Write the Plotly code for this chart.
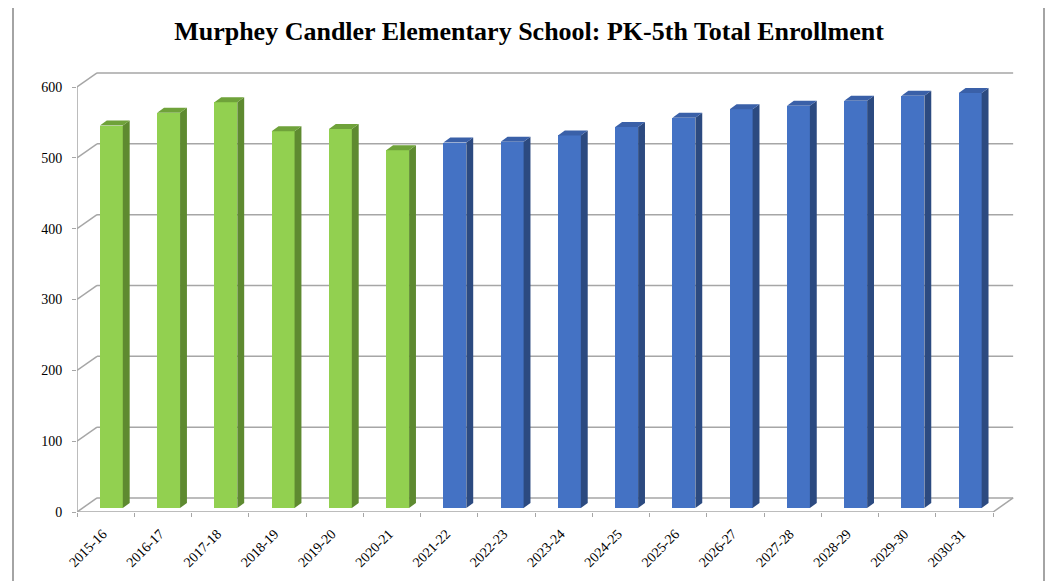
import plotly.graph_objects as go

# ---------------- data ----------------
categories = ["2015-16", "2016-17", "2017-18", "2018-19", "2019-20", "2020-21",
              "2021-22", "2022-23", "2023-24", "2024-25", "2025-26", "2026-27",
              "2027-28", "2028-29", "2029-30", "2030-31"]
enrollment = [540, 558, 573, 532, 535, 505,
              516, 517, 526, 538, 551, 563,
              568, 575, 582, 586]
series_type = ["actual"] * 6 + ["projected"] * 10
y_ticks = [0, 100, 200, 300, 400, 500, 600]

# ---------------- styling ----------------
FRONT = {"actual": "#92D050", "projected": "#4472C4"}
SIDE = {"actual": "#5E8A30", "projected": "#2C4A80"}
TOP = {"actual": "#6FA23A", "projected": "#3A60A8"}
GRID = "#A6A6A6"
FONT = "Liberation Serif"

PAGE_OFF = 8                      # default body margin of the html page
W, H = 1054 - PAGE_OFF, 581 - PAGE_OFF
ML, MR, MT, MB = 77 - PAGE_OFF, 38, 70 - PAGE_OFF, 69
XMAX, YMAX = 16.4, 624.0

# pseudo-3D offsets (in data units)
WALL_DX, WALL_DY = 0.35, 19.8      # depth of the floor / side wall
BASE_DX, BASE_DY = 0.1, 5.6        # bar front face position in depth
BAR_W = 0.4
BAR_DX, BAR_DY = 0.12, 7.0         # bar depth

n = len(categories)
xs = [i + 0.5 + BASE_DX for i in range(n)]
label_pos = [i + 0.45 for i in range(n)]

fig = go.Figure()

# front faces
fig.add_trace(go.Bar(
    x=xs, y=enrollment, base=BASE_DY, width=BAR_W,
    marker=dict(color=[FRONT[t] for t in series_type], line=dict(width=0)),
    hovertext=categories, hoverinfo="text+y", showlegend=False,
))

# side and top faces
for grp in ["actual", "projected"]:
    sx, sy, tx, ty = [], [], [], []
    for i, (v, t) in enumerate(zip(enrollment, series_type)):
        if t != grp:
            continue
        l = xs[i] - BAR_W / 2
        r = xs[i] + BAR_W / 2
        b = BASE_DY
        top = BASE_DY + v
        sx += [r, r + BAR_DX, r + BAR_DX, r, r, None]
        sy += [b, b + BAR_DY, top + BAR_DY, top, b, None]
        tx += [l, r, r + BAR_DX, l + BAR_DX, l, None]
        ty += [top, top, top + BAR_DY, top + BAR_DY, top, None]
    fig.add_trace(go.Scatter(x=sx, y=sy, mode="lines", fill="toself",
                             fillcolor=SIDE[grp], line=dict(width=0, color=SIDE[grp]),
                             hoverinfo="skip", showlegend=False))
    fig.add_trace(go.Scatter(x=tx, y=ty, mode="lines", fill="toself",
                             fillcolor=TOP[grp], line=dict(width=0, color=TOP[grp]),
                             hoverinfo="skip", showlegend=False))

# walls / gridlines
shapes = []
def line(x0, y0, x1, y1, color=GRID, width=1.5):
    shapes.append(dict(type="line", xref="x", yref="y", x0=x0, y0=y0, x1=x1, y1=y1,
                       line=dict(color=color, width=width), layer="below"))

for v in y_ticks:
    line(WALL_DX, v + WALL_DY, n + WALL_DX, v + WALL_DY)   # back wall gridline
    line(0, v, WALL_DX, v + WALL_DY)                       # side wall diagonal
line(n, 0, n + WALL_DX, WALL_DY)                            # floor right edge
line(0, 0, n, 0)                                            # x axis (front floor edge)
line(0, 0, 0, y_ticks[-1])                                  # y axis

# outer chart frame (page pixel positions)
def px_to_paper_x(px):
    return (px - PAGE_OFF - ML) / (W - ML - MR)
def px_to_paper_y(py):
    return (H - MB - (py - PAGE_OFF)) / (H - MT - MB)
shapes.append(dict(type="rect", xref="paper", yref="paper",
                   x0=px_to_paper_x(13), x1=px_to_paper_x(1044),
                   y0=px_to_paper_y(600), y1=px_to_paper_y(6),
                   line=dict(color="#878787", width=1.5), fillcolor="rgba(0,0,0,0)",
                   layer="below"))

fig.update_layout(
    width=W, height=H,
    margin=dict(l=ML, r=MR, t=MT, b=MB, autoexpand=False),
    paper_bgcolor="white", plot_bgcolor="white",
    shapes=shapes,
    bargap=0,
    title=dict(text="<b>Murphey Candler Elementary School: PK-5th Total Enrollment</b>",
               x=(529 - PAGE_OFF) / W, xanchor="center", xref="container",
               y=1 - (31 - PAGE_OFF) / H, yanchor="middle", yref="container",
               font=dict(family=FONT, size=26, color="black")),
    xaxis=dict(range=[0, XMAX], showgrid=False, zeroline=False, showline=False,
               automargin=False,
               tickmode="array", tickvals=label_pos, ticktext=categories, tickangle=-45,
               ticks="", ticklabelstandoff=10,
               tickfont=dict(family=FONT, size=14, color="black"),
               minor=dict(tickmode="array", tickvals=list(range(n + 1)), ticks="outside",
                          ticklen=4, tickcolor=GRID, showgrid=False)),
    yaxis=dict(range=[0, YMAX], showgrid=False, zeroline=False, showline=False,
               automargin=False,
               tickmode="array", tickvals=y_ticks, ticks="outside", ticklen=4,
               ticklabelstandoff=7,
               tickcolor=GRID, tickfont=dict(family=FONT, size=14, color="black")),
)

fig.write_html("out.html")
